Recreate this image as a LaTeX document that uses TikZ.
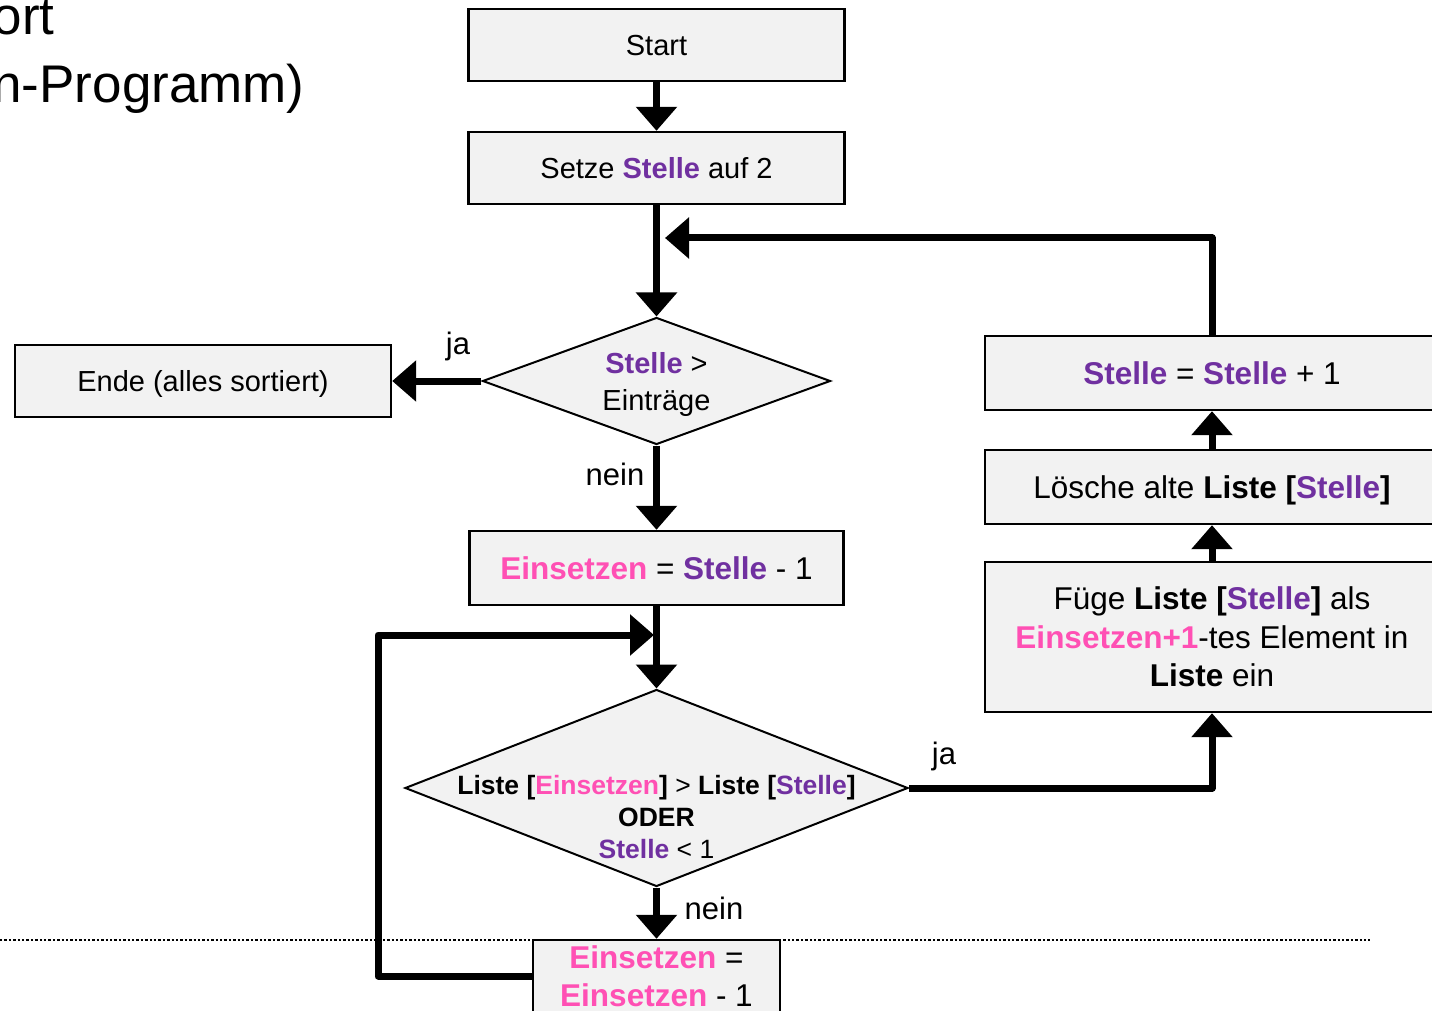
\documentclass[tikz,border=0pt]{standalone}
\usepackage{fontspec}
\setmainfont{Liberation Sans}
\usetikzlibrary{shapes.geometric,arrows.meta}
\definecolor{stpurple}{RGB}{112,48,160}
\definecolor{eipink}{RGB}{255,80,180}
\definecolor{boxgray}{RGB}{242,242,242}
\newcommand{\Stl}{\textcolor{stpurple}{\textbf{Stelle}}}
\newcommand{\Ein}{\textcolor{eipink}{\textbf{Einsetzen}}}

\begin{document}
\begin{tikzpicture}[x=0.5pt,y=-0.5pt,
  box/.style={draw, fill=boxgray, line width=1.2pt, minimum width=188pt, minimum height=36pt, inner sep=0pt, align=center, text depth=0pt, font=\fontsize{14.5}{17.4}\selectfont},
  bigbox/.style={box, font=\fontsize{15.75}{19.25}\selectfont},
  dia/.style={draw, fill=boxgray, diamond, line width=1pt, inner sep=0pt},
  arr/.style={line width=3.5pt, line join=round, -{Triangle[length=12pt,width=20pt]}},
  lbl/.style={font=\fontsize{15.5}{18}\selectfont}]
\useasboundingbox (0,0) rectangle (1432,1011);
\clip (0,0) rectangle (1432,1011);

% title, cut at the left
\node[anchor=base east, font=\fontsize{26.5}{32}\selectfont, inner sep=0pt] (t1) at (55,35) {ort};
\node[anchor=base east, font=\fontsize{26.5}{32}\selectfont, inner sep=0pt] (t2) at (305,103) {n-Programm)};

\draw[line width=0.7pt, dash pattern=on 1.2pt off 1pt] (0,940) -- (1370,940);

\node[box] (v1) at (656.5,45) {Start};
\node[box] (v2) at (656.5,168) {Setze \Stl{} auf 2};
\node[dia, minimum width=174pt, minimum height=63.5pt] (v3) at (656.5,381) {};
\node[align=center, font=\fontsize{14.5}{18.5}\selectfont] (v3t) at (656.5,385) {\Stl{} >\\Einträge};
\node[box] (v4) at (203,381) {Ende (alles sortiert)};
\node[bigbox, minimum width=187pt, minimum height=37pt] (v5) at (656.5,568) {\Ein{} = \Stl{} - 1};
\node[dia, minimum width=251.5pt, minimum height=98.5pt] (v6) at (656.5,788) {};
\node[align=center, font=\fontsize{13.25}{16}\selectfont] (v6t) at (656.5,817)
  {\textbf{Liste [}\Ein\textbf{]} > \textbf{Liste [}\Stl\textbf{]}\\\textbf{ODER}\\\Stl{} < 1};
\node[bigbox, minimum width=123.5pt] (v7) at (656.5,976) {\Ein{} =\\\Ein{} - 1};

\node[bigbox, minimum width=227pt, minimum height=75pt] (v8) at (1212,637)
  {Füge \textbf{Liste [}\Stl\textbf{]} als\\\textcolor{eipink}{\textbf{Einsetzen+1}}-tes Element in\\\textbf{Liste} ein};
\node[bigbox, minimum width=227pt, minimum height=37pt] (v9) at (1212,487) {Lösche alte \textbf{Liste [}\Stl\textbf{]}};
\node[bigbox, minimum width=227pt, minimum height=37pt] (v10) at (1212,373) {\Stl{} = \Stl{} + 1};

\coordinate (c1) at (378,635);
\coordinate (c2) at (654,635);
\coordinate (c3) at (665,238);

\draw[arr] (v1) -- (v2);
\draw[arr] (v2) -- (v3);
\draw[arr] (v3) -- (v4);
\draw[arr] (v3) -- (v5);
\draw[arr] (v5) -- (v6);
\draw[arr] (v6) -- (v7);
\draw[arr] (v6.east) -| (v8.south);
\draw[arr] (v7.west) -| (c1) -- (c2);
\draw[arr] (v8) -- (v9);
\draw[arr] (v9) -- (v10);
\draw[arr] (v10.north) |- (c3);

\node[lbl] (l1) at (458,346) {ja};
\node[lbl] (l2) at (615,474) {nein};
\node[lbl] (l3) at (944,756) {ja};
\node[lbl] (l4) at (714,908) {nein};
\end{tikzpicture}
\end{document}
